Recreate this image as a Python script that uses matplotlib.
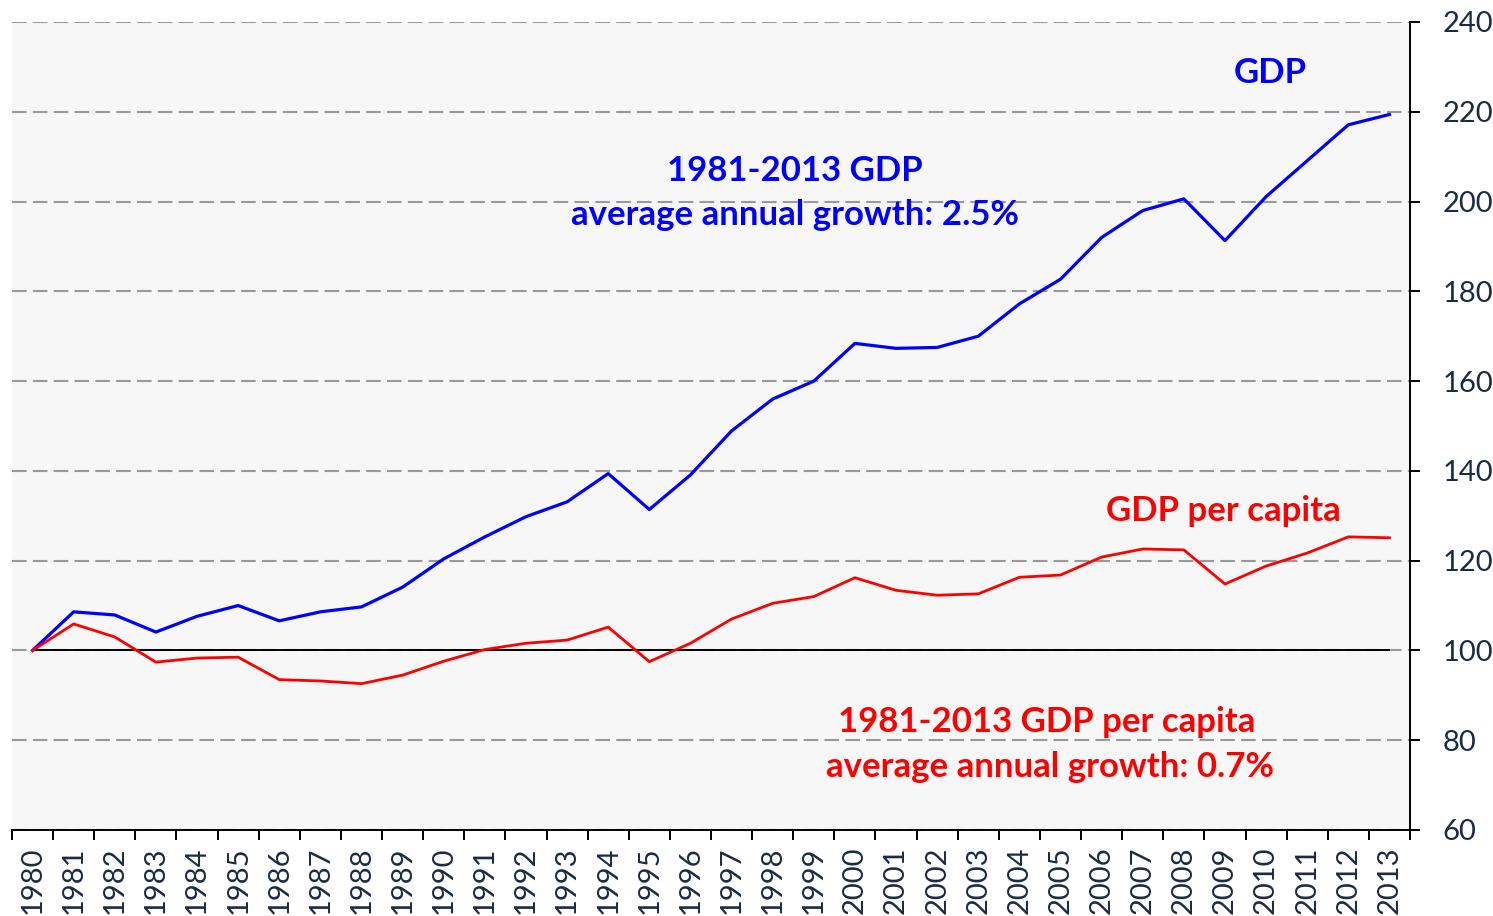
import numpy as np
import matplotlib.pyplot as plt

plt.rcParams['font.family'] = ['Lato', 'DejaVu Sans']

years = [str(y) for y in range(1980, 2014)]
gdp = [100.0, 108.6, 107.9, 104.1, 107.6, 110.0, 106.6, 108.6, 109.7, 114.1,
       120.4, 125.3, 129.8, 133.1, 139.4, 131.4, 139.1, 148.9, 156.0, 160.0,
       168.4, 167.3, 167.5, 170.0, 177.2, 182.7, 192.0, 198.0, 200.6, 191.3,
       201.1, 209.1, 217.1, 219.4]
gdp_pc = [100.0, 105.9, 103.0, 97.4, 98.3, 98.5, 93.5, 93.2, 92.6, 94.5,
          97.6, 100.2, 101.6, 102.3, 105.2, 97.5, 101.6, 107.0, 110.5, 112.0,
          116.2, 113.4, 112.3, 112.6, 116.3, 116.8, 120.8, 122.6, 122.4, 114.8,
          118.8, 121.7, 125.3, 125.1]
yticks = [60, 80, 100, 120, 140, 160, 180, 200, 220, 240]

tick_color = '#1c2a45'
blue = '#0000ff'
red = '#ff0000'
x = np.arange(len(years))

fig = plt.figure(figsize=(14.93, 9.16), dpi=100)
ax = fig.add_axes([12 / 1493, 1 - 830 / 916, (1410 - 12) / 1493, (830 - 22) / 916])
ax.set_facecolor('#f7f7f7')

for v in yticks:
    ax.axhline(v, color='#999999', lw=1.5, ls=(0, (7, 3)), zorder=1)
ax.plot([x[0], x[-1]], [100, 100], color='black', lw=1.4, zorder=2)

ax.plot(x, gdp, color=blue, lw=2.3, zorder=3)
ax.plot(x, gdp_pc, color=red, lw=2.0, zorder=3)

ax.set_xlim(-0.5, len(years) - 0.5)
ax.set_ylim(60, 240)

ax.set_xticks(x)
ax.set_xticklabels(years, rotation=90, fontsize=21, color=tick_color)
ax.set_xticks(np.arange(len(years) + 1) - 0.5, minor=True)
ax.tick_params(axis='x', which='major', length=0, pad=12)
ax.tick_params(axis='x', which='minor', length=7.5, width=1.4, direction='out', color='black')

ax.yaxis.tick_right()
ax.set_yticks(yticks)
ax.set_yticklabels([str(v) for v in yticks], fontsize=21, color=tick_color)
ax.tick_params(axis='y', length=7.5, width=1.4, direction='out', pad=16, color='black')

for s in ['left', 'top']:
    ax.spines[s].set_visible(False)
for s in ['right', 'bottom']:
    ax.spines[s].set_linewidth(1.4)
    ax.spines[s].set_color('black')

ax.text(30.1, 228.6, 'GDP', color=blue, fontsize=25, fontweight='bold', ha='center', va='center')
ax.text(18.55, 206.9, '1981-2013 GDP', color=blue, fontsize=25, fontweight='bold', ha='center', va='center')
ax.text(18.55, 196.9, 'average annual growth: 2.5%', color=blue, fontsize=25, fontweight='bold', ha='center', va='center')
ax.text(28.95, 131.1, 'GDP per capita', color=red, fontsize=25, fontweight='bold', ha='center', va='center')
ax.text(24.67, 84.0, '1981-2013 GDP per capita', color=red, fontsize=25, fontweight='bold', ha='center', va='center')
ax.text(24.74, 74.0, 'average annual growth: 0.7%', color=red, fontsize=25, fontweight='bold', ha='center', va='center')

fig.savefig('out.png', dpi=100, facecolor='white')
